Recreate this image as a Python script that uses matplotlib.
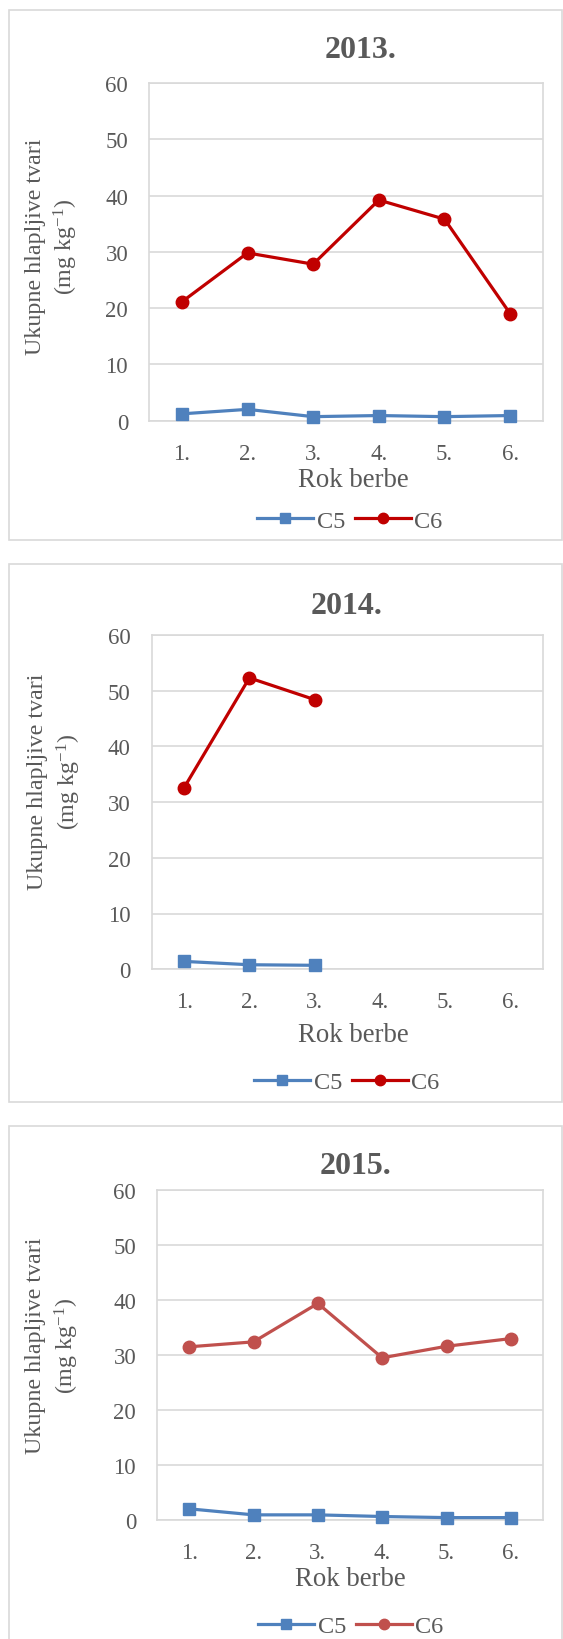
import matplotlib
matplotlib.use("Agg")
import matplotlib.pyplot as plt
from matplotlib.patches import Rectangle
from matplotlib.lines import Line2D
import numpy as np

plt.rcParams['font.family'] = ['Liberation Serif', 'DejaVu Serif']
plt.rcParams['mathtext.fontset'] = 'custom'
plt.rcParams['mathtext.rm'] = 'Liberation Serif'
plt.rcParams['mathtext.it'] = 'Liberation Serif:italic'
plt.rcParams['mathtext.bf'] = 'Liberation Serif:bold'

# ---------------- data ----------------
categories = ['1.', '2.', '3.', '4.', '5.', '6.']
years = ['2013.', '2014.', '2015.']
series_names = ['C5', 'C6']
c5_2013 = [1.2, 2.0, 0.7, 0.9, 0.7, 0.9]
c6_2013 = [21.1, 29.8, 27.8, 39.2, 35.8, 19.0]
c5_2014 = [1.4, 0.8, 0.7]
c6_2014 = [32.6, 52.3, 48.4]
c5_2015 = [2.0, 0.9, 0.9, 0.6, 0.4, 0.4]
c6_2015 = [31.5, 32.4, 39.4, 29.5, 31.6, 33.0]
yticks = [0, 10, 20, 30, 40, 50, 60]
ylabel_text = 'Ukupne hlapljive tvari\n(mg kg$^{-1}$)'
xlabel_text = 'Rok berbe'

# ---------------- layout (pixels) ----------------
W, H = 563, 1640
fig = plt.figure(figsize=(W / 100, H / 100), dpi=100)

def fx(px):
    return px / W

def fy(py):
    return 1 - py / H

TXT = '#595959'
GRID = '#D9D9D9'
BLUE = '#4F81BD'

panels = [
    dict(year=years[0], c5=c5_2013, c6=c6_2013, c6col='#C00000',
         box=(9, 10.5, 562, 540.5), plot=(149, 84, 543, 421.6),
         title=(361, 51), ylab=(52.5, 247), xlab=(353, 481), leg=(350, 521.7)),
    dict(year=years[1], c5=c5_2014, c6=c6_2014, c6col='#C00000',
         box=(9, 565, 562, 1103), plot=(151.5, 636, 543, 970.2),
         title=(346.5, 606), ylab=(55, 781.5), xlab=(353, 1035), leg=(347, 1083)),
    dict(year=years[2], c5=c5_2015, c6=c6_2015, c6col='#C0504D',
         box=(9, 1127, 562, 1660), plot=(157, 1191.3, 543, 1520.8),
         title=(355.5, 1167), ylab=(53, 1346), xlab=(350, 1580), leg=(351, 1627)),
]

for p in panels:
    bx0, by0, bx1, by1 = p['box']
    fig.patches.append(Rectangle((fx(bx0), fy(by1)), (bx1 - bx0) / W, (by1 - by0) / H,
                                 transform=fig.transFigure, fill=False,
                                 ec=GRID, lw=1.2, zorder=0))
    l, t, r, b = p['plot']
    ax = fig.add_axes([fx(l), fy(b), (r - l) / W, (b - t) / H])
    ax.set_xlim(0.5, 6.5)
    ax.set_ylim(0, 60)
    ax.set_yticks(yticks)
    ax.set_xticks(np.arange(1, len(categories) + 1))
    ax.set_xticklabels(categories)
    ax.yaxis.grid(True, color=GRID, lw=1.2)
    ax.set_axisbelow(True)
    for s in ax.spines.values():
        s.set_color(GRID)
        s.set_linewidth(1.2)
    ax.tick_params(axis='both', length=0, labelcolor=TXT, labelsize=16.5)
    ax.tick_params(axis='y', pad=15)
    ax.tick_params(axis='x', pad=16)

    x5 = np.arange(1, len(p['c5']) + 1)
    x6 = np.arange(1, len(p['c6']) + 1)
    ax.plot(x5, p['c5'], color=BLUE, lw=2.3, marker='s', ms=8.5,
            markeredgecolor=BLUE, clip_on=False, zorder=3)
    ax.plot(x6, p['c6'], color=p['c6col'], lw=2.3, marker='o', ms=9,
            markeredgecolor=p['c6col'], clip_on=False, zorder=3)

    fig.text(fx(p['title'][0]), fy(p['title'][1]), p['year'], ha='center', va='center',
             fontsize=23, fontweight='bold', color=TXT)
    fig.text(fx(p['ylab'][0]), fy(p['ylab'][1]), ylabel_text, ha='center', va='center',
             rotation=90, fontsize=17.3, color=TXT, multialignment='center', linespacing=1.3)
    fig.text(fx(p['xlab'][0]), fy(p['xlab'][1]), xlabel_text, ha='center', va='center',
             fontsize=19.3, color=TXT)

    handles = [Line2D([], [], color=BLUE, lw=2.3, marker='s', ms=7.5),
               Line2D([], [], color=p['c6col'], lw=2.3, marker='o', ms=7.5)]
    leg = fig.legend(handles, series_names, loc='center',
                     bbox_to_anchor=(fx(p['leg'][0]), fy(p['leg'][1])),
                     ncol=2, frameon=False, fontsize=17.5, handlelength=2.3,
                     handletextpad=0.15, columnspacing=0.4, borderpad=0)
    for tx in leg.get_texts():
        tx.set_color(TXT)

fig.savefig('out.png', dpi=100)
